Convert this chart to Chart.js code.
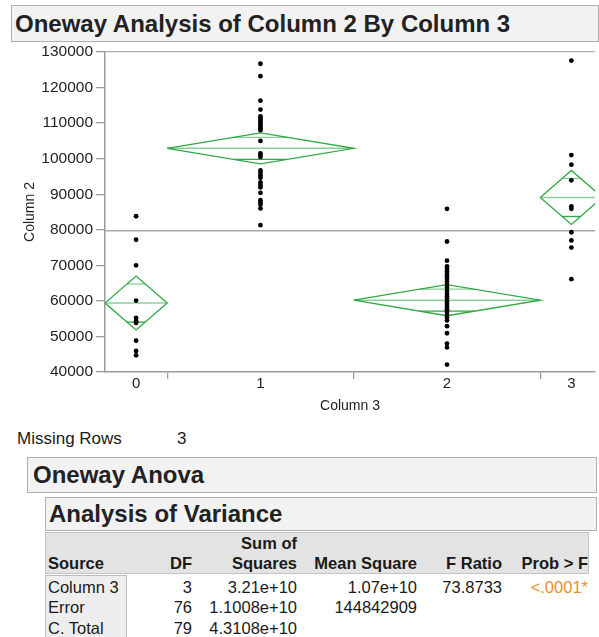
<!DOCTYPE html>
<html><head><meta charset="utf-8">
<script src="https://cdn.jsdelivr.net/npm/chart.js@4.4.1/dist/chart.umd.min.js"></script>
<style>
html,body{margin:0;padding:0;background:#fff;width:599px;height:637px;overflow:hidden;font-family:"Liberation Sans",Arial,Helvetica,sans-serif;color:#1a1a1a;}
#wrap{position:relative;width:599px;height:637px;overflow:hidden;}
#chartBox{position:absolute;left:0;top:0;width:599px;height:420px;}
.hbox{position:absolute;background:#f2f2f2;border:1px solid #b0b0b0;box-sizing:border-box;font-weight:bold;color:#222;white-space:nowrap;}
.t{position:absolute;white-space:nowrap;font-size:16.5px;line-height:20px;height:20px;}
.b{font-weight:bold;}
</style></head>
<body><div id="wrap">
<div id="chartBox"><canvas id="c" width="599" height="420"></canvas></div>
<div class="hbox" style="left:11px;top:5px;width:588px;height:37px;font-size:24px;line-height:35px;padding-left:3px;" id="title"></div>
<div id="missing"></div>
<div class="hbox" style="left:27px;top:457px;width:570px;height:36px;font-size:24px;line-height:34px;padding-left:5px;" id="h1"></div>
<div class="hbox" style="left:45px;top:497px;width:552px;height:34px;font-size:24px;line-height:32px;padding-left:3px;" id="h2"></div>
<div id="table"></div>
</div>
<script>
// ---- data ----
const chartTitle = 'Oneway Analysis of Column 2 By Column 3';
const xTitle = 'Column 3';
const yTitle = 'Column 2';
const categories = ['0', '1', '2', '3'];
const group0 = [83800, 77200, 70000, 60100, 55200, 54300, 53800, 48800, 45900, 44700];
const group1 = [126700, 123200, 116300, 113800, 111900, 111400, 110900, 110400, 110000, 109500,
                109000, 108500, 108000, 105000, 101500, 101000, 100500, 96700, 96000, 95300,
                94600, 93300, 92600, 91900, 90400, 88300, 87700, 87100, 86000, 81300];
const group2 = [85900, 76700, 71300, 69700, 69000, 68300, 67600, 66900, 66200, 65400,
                64500, 63700, 62800, 62000, 61300, 60600, 59800, 59100, 58400, 57700,
                56900, 56000, 57300, 55300, 54500, 52900, 50900, 48000, 46900, 42100];
const group3 = [127600, 101000, 98300, 93900, 86600, 85900, 79300, 77000, 75000, 66100];
const groupMeans = [59400, 102900, 60200, 89100];
const yMin = 40000, yMax = 130000, yStep = 10000;
const missingLabel = 'Missing Rows';
const missingRows = 3;
const anovaHeading = 'Oneway Anova';
const varHeading = 'Analysis of Variance';
const anovaSource = ['Column 3', 'Error', 'C. Total'];
const anovaDF = ['3', '76', '79'];
const anovaSS = ['3.21e+10', '1.1008e+10', '4.3108e+10'];
const anovaMS = ['1.07e+10', '144842909', ''];
const anovaF = ['73.8733', '', ''];
const anovaP = ['<.0001*', '', ''];
const tCrit = 1.9917; // t(0.975, 76)

// ---- derived ----
const groups = [group0, group1, group2, group3];
const counts = groups.map(g => g.length);
const total = counts.reduce((a, b) => a + b, 0);
const starts = []; let acc = 0;
counts.forEach(n => { starts.push(acc); acc += n; });
const centers = counts.map((n, i) => starts[i] + n / 2);
const boundaries = starts.slice(1);
const mse = parseFloat(anovaMS[1]);
const grandMean = groupMeans.reduce((s, m, i) => s + m * counts[i], 0) / total;

const GREEN = '#30a845';
const GREEN_LIGHT = 'rgba(48,168,69,0.55)';
const datasets = [];
datasets.push({
  label: 'points',
  data: groups.flatMap((g, i) => g.map(v => ({x: centers[i], y: v}))),
  pointRadius: 2.4, pointBackgroundColor: '#000', pointBorderWidth: 0, showLine: false
});
datasets.push({
  label: 'grand mean',
  data: [{x: 0, y: grandMean}, {x: total, y: grandMean}],
  showLine: true, borderColor: '#a8a8a8', borderWidth: 1.5, pointRadius: 0
});
groups.forEach((g, i) => {
  const m = groupMeans[i];
  const ci = tCrit * Math.sqrt(mse / counts[i]);
  const L = starts[i], R = starts[i] + counts[i], C = centers[i];
  const h = ci / Math.SQRT2;
  const hw = (R - L) / 2 * (1 - 1 / Math.SQRT2);
  datasets.push({
    data: [{x: L, y: m}, {x: C, y: m + ci}, {x: R, y: m}, {x: C, y: m - ci}, {x: L, y: m}],
    showLine: true, borderColor: GREEN, borderWidth: 1.3, pointRadius: 0, tension: 0
  });
  datasets.push({
    data: [{x: L, y: m}, {x: R, y: m}],
    showLine: true, borderColor: GREEN_LIGHT, borderWidth: 1.5, pointRadius: 0
  });
  datasets.push({
    data: [{x: C - hw, y: m + h}, {x: C + hw, y: m + h}],
    showLine: true, borderColor: GREEN_LIGHT, borderWidth: 1.3, pointRadius: 0
  });
  datasets.push({
    data: [{x: C - hw, y: m - h}, {x: C + hw, y: m - h}],
    showLine: true, borderColor: GREEN, borderWidth: 1.3, pointRadius: 0
  });
});

const xTickVals = [...centers, ...boundaries].sort((a, b) => a - b);

new Chart(document.getElementById('c'), {
  type: 'scatter',
  data: {datasets},
  options: {
    responsive: false, animation: false,
    layout: {padding: {top: 52, right: 0, bottom: 0, left: 0}},
    plugins: {legend: {display: false}, tooltip: {enabled: false}},
    scales: {
      x: {
        type: 'linear', min: 0, max: 78.8,
        afterBuildTicks: (s) => { s.ticks = xTickVals.map(v => ({value: v})); },
        afterFit: (s) => { s.height = 48; },
        border: {color: '#9a9a9a', width: 1.5},
        grid: {drawOnChartArea: false, tickLength: 7, lineWidth: 1.3,
               tickColor: (ctx) => (ctx.tick && boundaries.includes(ctx.tick.value)) ? '#9a9a9a' : 'rgba(0,0,0,0)'},
        ticks: {autoSkip: false, maxRotation: 0, padding: -4, color: '#222',
                font: {family: 'Liberation Sans', size: 15},
                callback: (v) => { const i = centers.indexOf(v); return i >= 0 ? categories[i] : ''; }},
        title: {display: true, text: xTitle, color: '#222', font: {family: 'Liberation Sans', size: 14},
                padding: {top: 0, bottom: 5}}
      },
      y: {
        min: yMin, max: yMax,
        afterFit: (s) => { s.width = 105; },
        border: {color: '#9a9a9a', width: 1.5},
        grid: {drawOnChartArea: true, tickLength: 9, lineWidth: 1.3, tickColor: '#9a9a9a',
               color: (ctx) => (ctx.tick && ctx.tick.value === yMax) ? '#b0b0b0' : 'rgba(0,0,0,0)'},
        ticks: {stepSize: yStep, padding: 3, color: '#222', font: {family: 'Liberation Sans', size: 15.5},
                callback: (v) => String(v)},
        title: {display: true, text: yTitle, color: '#222', font: {family: 'Liberation Sans', size: 14},
                padding: {top: 22, bottom: 0}}
      }
    }
  }
});

// ---- HTML text parts ----
document.getElementById('title').textContent = chartTitle;
document.getElementById('h1').textContent = anovaHeading;
document.getElementById('h2').textContent = varHeading;
const wrap = document.getElementById('wrap');
function txt(text, x, cy, align, cls, extra) {
  const d = document.createElement('div');
  d.className = 't' + (cls ? ' ' + cls : '');
  d.textContent = text;
  d.style.top = (cy - 10) + 'px';
  if (align === 'right') { d.style.right = (599 - x) + 'px'; d.style.textAlign = 'right'; }
  else d.style.left = x + 'px';
  if (extra) Object.assign(d.style, extra);
  wrap.appendChild(d);
  return d;
}
txt(missingLabel, 17, 439, 'left', null, {fontSize: '17px'});
txt(String(missingRows), 177, 439, 'left', null, {fontSize: '17px'});

// table boxes
const hdr = document.createElement('div');
Object.assign(hdr.style, {position: 'absolute', left: '45px', top: '532px', width: '544px', height: '42px',
  background: '#e3e3e3', border: '1px solid #c4c4c4', boxSizing: 'border-box'});
wrap.appendChild(hdr);
const src = document.createElement('div');
Object.assign(src.style, {position: 'absolute', left: '45px', top: '575px', width: '82px', height: '70px',
  background: '#eeeeee', border: '1px solid #bdbdbd', boxSizing: 'border-box'});
wrap.appendChild(src);

const colRight = [null, 192, 297, 417, 502, 588];
const headLine2 = ['Source', 'DF', 'Squares', 'Mean Square', 'F Ratio', 'Prob > F'];
txt('Sum of', colRight[2], 543, 'right', 'b');
headLine2.forEach((h, i) => {
  if (i === 0) txt(h, 48, 563, 'left', 'b');
  else txt(h, colRight[i], 563, 'right', 'b');
});
const rowY = [587, 607, 628];
anovaSource.forEach((s, r) => {
  txt(s, 48, rowY[r]);
  txt(anovaDF[r], colRight[1], rowY[r], 'right');
  txt(anovaSS[r], colRight[2], rowY[r], 'right');
  txt(anovaMS[r], colRight[3], rowY[r], 'right');
  txt(anovaF[r], colRight[4], rowY[r], 'right');
  if (anovaP[r]) txt(anovaP[r], colRight[5], rowY[r], 'right', null, {color: '#e8902a'});
});
</script>
</body></html>
